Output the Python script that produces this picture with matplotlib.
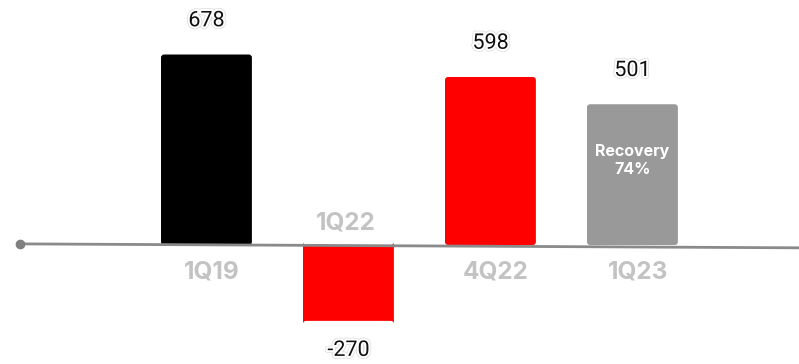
import matplotlib
matplotlib.use("Agg")
import matplotlib.pyplot as plt
import matplotlib.patheffects as pe
from matplotlib.patches import FancyBboxPatch

quarters = ["1Q19", "1Q22", "4Q22", "1Q23"]
values = [678, -270, 598, 501]
colors = ["#000000", "#ff0000", "#ff0000", "#999999"]
note = "Recovery\n74%"

fig = plt.figure(figsize=(7.99, 3.64), dpi=100)
ax = fig.add_axes([0, 0, 1, 1])
ax.set_xlim(-1.454, 4.173)
ax.set_ylim(-423.5, 872)
ax.axis("off")

xs = range(len(quarters))
bars = ax.bar(xs, values, width=0.64, color=colors)

# swap plain rectangles for slightly rounded ones
for b in bars:
    x, y = b.get_x(), b.get_y()
    w, h = b.get_width(), b.get_height()
    b.set_visible(False)
    ax.add_patch(FancyBboxPatch((x, y), w, h,
                                boxstyle="round,pad=0,rounding_size=0.022",
                                mutation_aspect=490,
                                fc=b.get_facecolor(), ec="none", zorder=2))

# baseline (drawn a touch off level) with a dot on the left end
ax.plot([-1.31, 4.173], [4, -10], color="#8a8a8a", lw=2, zorder=3,
        solid_capstyle="butt")
ax.plot([-1.31], [4], "o", color="#808080", ms=6, zorder=4)

halo = [pe.Stroke(linewidth=4, foreground="#dcdcdc"),
        pe.Stroke(linewidth=3, foreground="white"),
        pe.Normal()]

for i, (q, v) in enumerate(zip(quarters, values)):
    if v >= 0:
        ax.text(i, v + 120, str(v), ha="center", va="center",
                fontsize=15.5, family="Roboto", color="#111111",
                path_effects=halo, zorder=5)
        ax.text(i + 0.04, -95, q, ha="center", va="center",
                fontsize=17.5, family="Inter", fontweight="bold",
                color="#c3c3c3", zorder=5)
    else:
        ax.text(i, v - 105, str(v), ha="center", va="center",
                fontsize=15.5, family="Roboto", color="#111111",
                path_effects=halo, zorder=5)
        ax.text(i - 0.02, 80, q, ha="center", va="center",
                fontsize=17.5, family="Inter", fontweight="bold",
                color="#c3c3c3", zorder=5)

ax.text(3, 501 - 200, note, ha="center", va="center", fontsize=11.5,
        family="Inter", fontweight="bold", color="white",
        linespacing=1.2, zorder=5)

fig.savefig("out.png", dpi=100, facecolor="white")
